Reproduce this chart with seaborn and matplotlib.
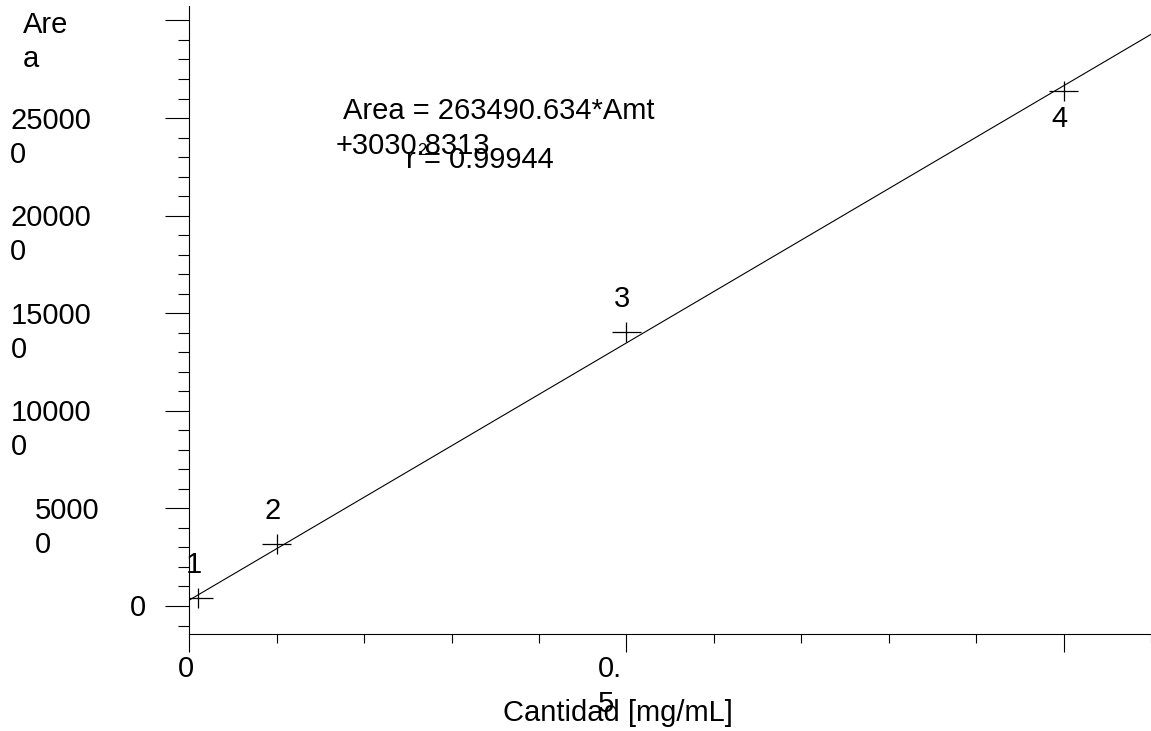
import numpy as np
import pandas as pd
import matplotlib
matplotlib.use("Agg")
import matplotlib.pyplot as plt
import seaborn as sns
from matplotlib.path import Path
from matplotlib.ticker import MultipleLocator

# ---------------- data ----------------
point_labels = ["1", "2", "3", "4"]
amounts = [0.01, 0.1, 0.5, 1.0]
areas = [4200, 32000, 140600, 263600]
label_side = ["above", "above", "above", "below"]

slope = 263490.634
intercept = 3030.8313
r_value = "0.99944"

y_tick_values = [0, 50000, 100000, 150000, 200000, 250000, 300000]
y_tick_labels = ["0", "5000\n0", "10000\n0", "15000\n0", "20000\n0", "25000\n0", ""]
x_tick_values = [0, 0.5, 1.0]
x_tick_labels = ["0", "0.\n5", ""]
x_label = "Cantidad [mg/mL]"
y_label = "Are\na"

# ---------------- layout / style ----------------
W, H, DPI = 1151, 731, 100
FS = 21
PX = 72.0 / DPI  # points per pixel
y_label_left_px = [130, 35, 11, 11, 10, 10, 10]
x_label_left_off_px = [-11, -29, 0]

sns.set_theme(style="white")
plt.rcParams['font.family'] = ['Liberation Sans', 'DejaVu Sans']
plt.rcParams['font.size'] = FS

fig = plt.figure(figsize=(W / DPI, H / DPI), dpi=DPI)
fig.patch.set_facecolor("white")
ax = fig.add_axes([189.3 / W, (H - 634) / H, (W - 189.3) / W, (634 - 6) / H])
ax.set_facecolor("white")

df = pd.DataFrame({"Amt": amounts, "Area": areas, "label": point_labels})

# regression line across the full x range
x_max = 1.1
y_min, y_max = -14350, 307400
xs = np.array([0.0, x_max])
line_df = pd.DataFrame({"Amt": xs, "Area": slope * xs + intercept})
sns.lineplot(data=line_df, x="Amt", y="Area", color="black", linewidth=0.8, ax=ax)

cross = Path([(-1.45, 0), (1.45, 0), (0, -1), (0, 1)],
             [Path.MOVETO, Path.LINETO, Path.MOVETO, Path.LINETO])
sns.scatterplot(data=df, x="Amt", y="Area", marker=cross, s=436,
                color="black", edgecolor="black", facecolor="none",
                linewidth=0.9, ax=ax, zorder=3, legend=False)

for lab, a, v, side in zip(point_labels, amounts, areas, label_side):
    dy = 25 if side == "above" else -36
    ax.annotate(lab, xy=(a, v), xytext=(-4 * PX, dy * PX), textcoords="offset points",
                ha="center", va="baseline", fontsize=FS, color="black")

ax.set_xlim(0, x_max)
ax.set_ylim(y_min, y_max)

# spines
for s in ["top", "right"]:
    ax.spines[s].set_visible(False)
for s in ["left", "bottom"]:
    ax.spines[s].set_color("black")
    ax.spines[s].set_linewidth(0.8)

# ticks
ax.set_yticks(y_tick_values)
ax.yaxis.set_minor_locator(MultipleLocator(10000))
ax.set_xticks(x_tick_values)
ax.xaxis.set_minor_locator(MultipleLocator(0.1))
ax.tick_params(axis="y", which="major", direction="out", length=24 * PX, width=0.8,
               color="black", left=True, labelleft=False)
ax.tick_params(axis="y", which="minor", direction="out", length=11 * PX, width=0.8,
               color="black", left=True)
ax.tick_params(axis="x", which="major", direction="out", length=17.5 * PX, width=0.8,
               color="black", bottom=True, labelbottom=False)
ax.tick_params(axis="x", which="minor", direction="out", length=9 * PX, width=0.8,
               color="black", bottom=True)
ax.set_xlabel("")
ax.set_ylabel("")

# wrapped y tick labels (first line baseline ~11 px below tick, next lines 34 px apart)
for val, lab, lx in zip(y_tick_values, y_tick_labels, y_label_left_px):
    for i, line in enumerate(lab.split("\n")):
        if not line:
            continue
        ax.annotate(line, xy=(lx, val), xycoords=("figure pixels", "data"),
                    xytext=(0, (-10.5 - 34 * i) * PX), textcoords="offset points",
                    ha="left", va="baseline", fontsize=FS, color="black",
                    annotation_clip=False)

# wrapped x tick labels
for val, lab, off in zip(x_tick_values, x_tick_labels, x_label_left_off_px):
    for i, line in enumerate(lab.split("\n")):
        if not line:
            continue
        ax.annotate(line, xy=(val, H - 677 - 35 * i), xycoords=("data", "figure pixels"),
                    xytext=(off * PX, 0), textcoords="offset points",
                    ha="left", va="baseline", fontsize=FS, color="black",
                    annotation_clip=False)

# axis titles
for i, line in enumerate(y_label.split("\n")):
    fig.text(23 / W, (H - 33 - 34 * i) / H, line, ha="left", va="baseline",
             fontsize=FS, color="black")
fig.text(503 / W, (H - 721) / H, x_label, ha="left", va="baseline",
         fontsize=FS, color="black")

# equation annotation
fig.text(343 / W, (H - 119) / H, f"Area = {slope}*Amt", ha="left", va="baseline",
         fontsize=FS, color="black")
fig.text(336 / W, (H - 154) / H, f"+{intercept}", ha="left", va="baseline",
         fontsize=FS, color="black")
fig.text(406 / W, (H - 168) / H, "r", ha="left", va="baseline", fontsize=FS, color="black")
fig.text(417 / W, (H - 155) / H, "2", ha="left", va="baseline", fontsize=12, color="black")
fig.text(424 / W, (H - 168) / H, f"= {r_value}", ha="left", va="baseline",
         fontsize=FS, color="black")

fig.savefig("out.png", dpi=DPI, facecolor="white")
